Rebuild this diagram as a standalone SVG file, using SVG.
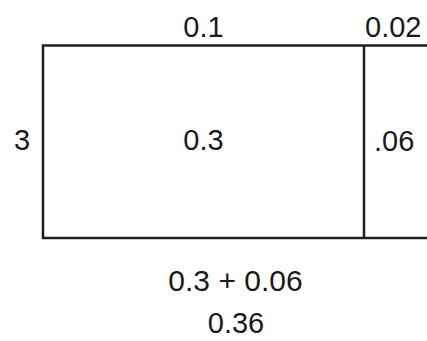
<svg xmlns="http://www.w3.org/2000/svg" width="427" height="341" viewBox="0 0 427 341">
<style>
.t{font-family:"Liberation Sans",Arial,sans-serif;font-size:29px;fill:#1a1a1a}
.ln{stroke:#1e1e1e;stroke-width:2.5;fill:none}
</style>
<rect width="427" height="341" fill="#ffffff"/>
<g id="shape">
<path class="ln" d="M427 45.5 H43 V238 H427"/>
<line class="ln" x1="364" y1="45.5" x2="364" y2="238"/>
</g>
<g id="labels">
<text class="t" x="203.5" y="37" text-anchor="middle">0.1</text>
<text class="t" x="365" y="37">0.02</text>
<text class="t" x="14" y="150">3</text>
<text class="t" x="203.5" y="150" text-anchor="middle">0.3</text>
<text class="t" x="374" y="151">.06</text>
<text class="t" x="235.5" y="291" text-anchor="middle" style="font-size:30px">0.3 + 0.06</text>
<text class="t" x="236" y="333" text-anchor="middle" style="font-size:29px">0.36</text>
</g>
</svg>
